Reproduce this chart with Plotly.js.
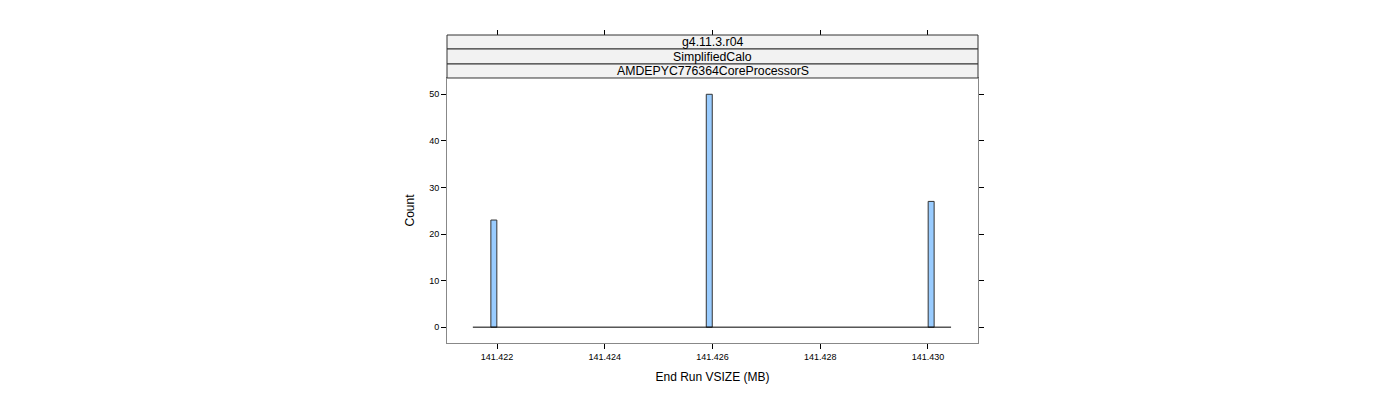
<!DOCTYPE html>
<html>
<head>
<meta charset="utf-8">
<script src="https://cdn.plot.ly/plotly-3.0.1.min.js"></script>
<style>
  html, body { margin: 0; padding: 0; background: #fff; }
  #chart { width: 1400px; height: 400px; }
</style>
</head>
<body>
<div id="chart"></div>
<script>
// histogram bins with a count (all other bins are empty)
const binCenters = [141.42194, 141.42594, 141.43006];
const binCounts = [23, 50, 27];
const binWidth = 0.000111;
// full span of the histogram breaks (empty bins drawn as a flat line)
const histRange = [141.42155, 141.43043];

const xTicks = [141.422, 141.424, 141.426, 141.428, 141.430];
const yTicks = [0, 10, 20, 30, 40, 50];
const stripLabels = ['g4.11.3.r04', 'SimplifiedCalo', 'AMDEPYC776364CoreProcessorS'];

const xRange = [141.42107, 141.43093];
const yRange = [-3.4, 53.5];

const traces = [
  {
    type: 'scatter',
    mode: 'lines',
    x: histRange,
    y: [0, 0],
    line: { color: '#000', width: 1 },
    hoverinfo: 'skip'
  },
  {
    type: 'bar',
    x: binCenters,
    y: binCounts,
    width: binCenters.map(() => binWidth),
    marker: { color: '#99CCFF', line: { color: '#333', width: 1 } }
  }
];

// strip boxes stacked above the panel (paper coords)
const stripEdges = [1, 0.9545, 0.9058, 0.8604];
const shapes = [];
const annotations = [];
stripLabels.forEach((lab, i) => {
  shapes.push({
    type: 'rect', xref: 'paper', yref: 'paper',
    x0: 0, x1: 1, y0: stripEdges[i + 1], y1: stripEdges[i],
    fillcolor: '#f2f2f2', line: { color: '#333', width: 1 }, layer: 'above'
  });
  annotations.push({
    xref: 'paper', yref: 'paper', x: 0.5, y: (stripEdges[i] + stripEdges[i + 1]) / 2,
    text: lab, showarrow: false, xanchor: 'center', yanchor: 'middle',
    font: { size: 12.3, color: '#000' }
  });
});

const tickFont = { family: 'Liberation Sans, Arial, sans-serif', size: 9, color: '#000' };

const layout = {
  width: 1400,
  height: 400,
  margin: { l: 447, r: 422, t: 35, b: 57 },
  paper_bgcolor: '#fff',
  plot_bgcolor: '#fff',
  showlegend: false,
  font: { family: 'Liberation Sans, Arial, sans-serif', color: '#000' },
  bargap: 0,
  xaxis: {
    range: xRange,
    tickvals: xTicks,
    ticktext: xTicks.map(v => v.toFixed(3)),
    ticks: 'outside', ticklen: 5, tickcolor: '#000',
    tickfont: tickFont,
    showgrid: false, zeroline: false,
    showline: true, linecolor: '#888', linewidth: 1, mirror: true,
    title: { text: 'End Run VSIZE (MB)', font: { size: 12 }, standoff: 11 }
  },
  xaxis2: {
    range: xRange,
    overlaying: 'x',
    anchor: 'free',
    position: 1,
    side: 'top',
    tickvals: xTicks,
    ticks: 'outside', ticklen: 5, tickcolor: '#000',
    showticklabels: false,
    showgrid: false, zeroline: false, showline: false
  },
  yaxis: {
    domain: [0, 0.8604],
    range: yRange,
    tickvals: yTicks,
    ticks: 'outside', ticklen: 5, tickcolor: '#000',
    tickfont: tickFont,
    showgrid: false, zeroline: false,
    showline: true, linecolor: '#888', linewidth: 1, mirror: 'ticks',
    title: { text: 'Count', font: { size: 12 }, standoff: 11 }
  },
  shapes: shapes,
  annotations: annotations
};

// dummy trace so the top axis is drawn
traces.push({ type: 'scatter', x: [xRange[0]], y: [yRange[0]], xaxis: 'x2', mode: 'markers', marker: { opacity: 0 }, hoverinfo: 'skip' });

Plotly.newPlot('chart', traces, layout, { displayModeBar: false, staticPlot: true });
</script>
</body>
</html>
